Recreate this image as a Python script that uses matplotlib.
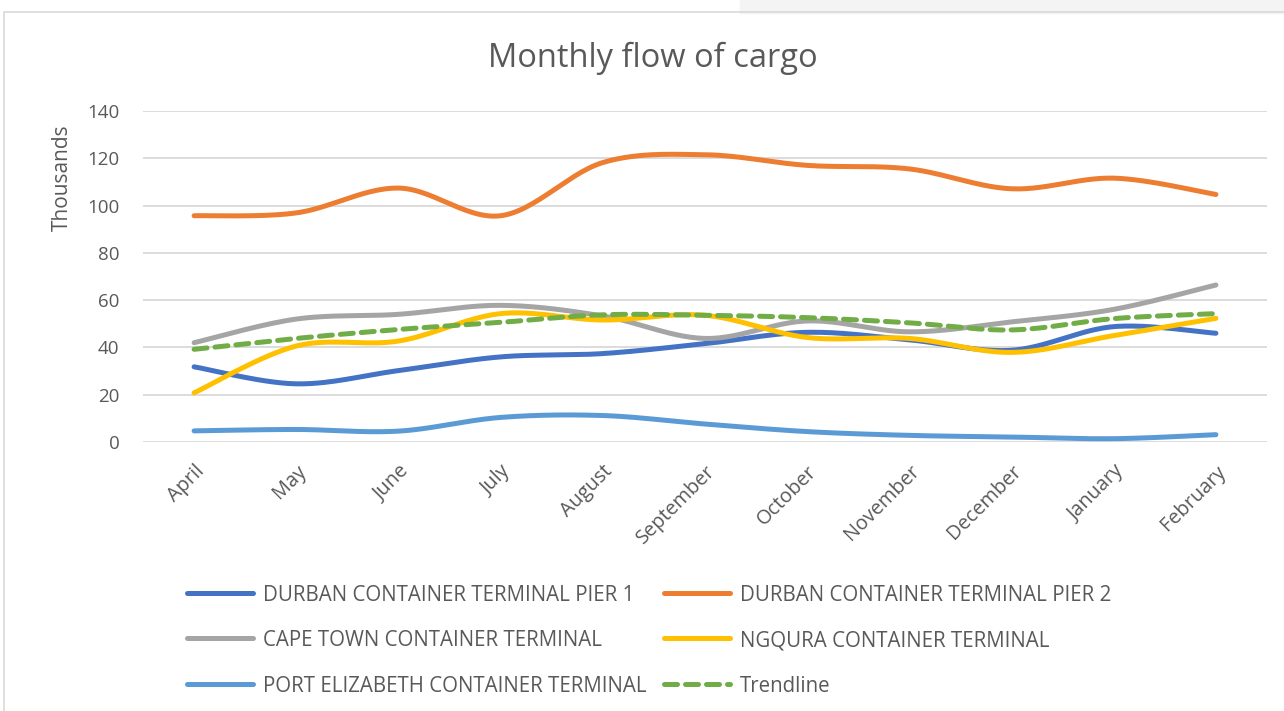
import numpy as np
import matplotlib.pyplot as plt
from matplotlib.lines import Line2D
from matplotlib.patches import Rectangle

months = ['April', 'May', 'June', 'July', 'August', 'September',
          'October', 'November', 'December', 'January', 'February']

# values in thousands
pier1 = [31.8, 24.6, 30.2, 36.0, 37.4, 41.6, 46.4, 43.2, 38.8, 48.8, 46.0]
pier2 = [95.7, 96.9, 107.4, 95.7, 118.2, 121.5, 117.0, 115.5, 107.1, 111.6, 104.7]
cape_town = [42.0, 52.0, 54.0, 57.8, 53.3, 43.8, 51.2, 46.6, 50.8, 56.1, 66.4]
ngqura = [20.8, 40.6, 42.7, 54.3, 51.6, 53.6, 44.2, 43.8, 37.9, 45.0, 52.3]
port_elizabeth = [4.7, 5.3, 4.6, 10.4, 11.2, 7.6, 4.4, 2.8, 2.1, 1.4, 3.1]
trendline = [39.2, 43.8, 47.6, 50.6, 53.8, 53.6, 52.6, 50.4, 47.4, 52.2, 54.3]

series = [
    ('DURBAN CONTAINER TERMINAL PIER 1', pier1, '#4472C4', '-'),
    ('DURBAN CONTAINER TERMINAL PIER 2', pier2, '#ED7D31', '-'),
    ('CAPE TOWN CONTAINER TERMINAL', cape_town, '#A5A5A5', '-'),
    ('NGQURA CONTAINER TERMINAL', ngqura, '#FFC000', '-'),
    ('PORT ELIZABETH CONTAINER TERMINAL', port_elizabeth, '#5B9BD5', '-'),
    ('Trendline', trendline, '#70AD47', '--'),
]


def smooth(y, n=30):
    # Excel-like smoothed line: cubic bezier with catmull-rom control points
    y = np.asarray(y, float)
    x = np.arange(len(y), dtype=float)
    p = np.column_stack([x, y])
    ext = np.vstack([p[0], p, p[-1]])
    t = np.linspace(0, 1, n)[:, None]
    out = []
    for i in range(len(p) - 1):
        p0, p3 = p[i], p[i + 1]
        c1 = p0 + (ext[i + 2] - ext[i]) / 6
        c2 = p3 - (ext[i + 3] - ext[i + 1]) / 6
        seg = ((1 - t) ** 3 * p0 + 3 * (1 - t) ** 2 * t * c1
               + 3 * (1 - t) * t ** 2 * c2 + t ** 3 * p3)
        out.append(seg if i == 0 else seg[1:])
    out = np.vstack(out)
    return out[:, 0], out[:, 1]


plt.rcParams['font.family'] = ['Open Sans', 'DejaVu Sans']
txt = '#595959'
W, H = 1284, 711
dash = (2.6, 1.6)

fig = plt.figure(figsize=(W / 100, H / 100), dpi=100)
fig.patches.append(Rectangle((740 / W, 1 - 13 / H), 1, 13 / H,
                             transform=fig.transFigure, color='#F4F4F4', zorder=0))
fig.patches.append(Rectangle((4 / W, -0.1), 1.1, 1 - 12 / H + 0.1,
                             transform=fig.transFigure, fill=False,
                             edgecolor='#D9D9D9', lw=1.2, zorder=1))

ax = fig.add_axes([143 / W, 1 - 442 / H, 1124 / W, 331 / H])

for name, vals, color, ls in series:
    sx, sy = smooth(vals)
    ax.plot(sx, sy, color=color, lw=3.6, ls=ls,
            dashes=dash if ls == '--' else (None, None),
            solid_capstyle='round', dash_capstyle='round', zorder=3)

ax.set_xlim(-0.5, 10.5)
ax.set_ylim(0, 140)
ax.set_yticks(range(0, 141, 20))
ax.set_xticks(range(len(months)))
ax.set_xticklabels(months, rotation=45, ha='right', rotation_mode='anchor')
ax.tick_params(length=0, labelsize=13.5, colors=txt)
ax.tick_params(axis='y', pad=17)
ax.tick_params(axis='x', labelsize=14.3, pad=14)
ax.grid(axis='y', color='#D9D9D9', lw=1.3)
ax.set_axisbelow(True)
for s in ax.spines.values():
    s.set_visible(False)

fig.text(653 / W, 1 - 58 / H, 'Monthly flow of cargo', ha='center',
         va='center', fontsize=23.5, color=txt)
fig.text(62 / W, 1 - 178 / H, 'Thousands', rotation=90, ha='center',
         va='center', fontsize=15, color=txt)

# legend laid out like the Excel one: two columns, three rows
col_x = [187, 664]
row_y = [593, 638, 684]
for k, (name, vals, color, ls) in enumerate(series):
    x0 = col_x[k % 2]
    y0 = 1 - row_y[k // 2] / H
    fig.add_artist(Line2D([x0 / W, (x0 + 66) / W], [y0, y0], color=color,
                          lw=3.6, ls=ls,
                          dashes=dash if ls == '--' else (None, None),
                          solid_capstyle='round', dash_capstyle='round'))
    fig.text((x0 + 76) / W, y0, name, ha='left', va='center_baseline',
             fontsize=14.8, color=txt)

fig.savefig('out.png', dpi=100)
